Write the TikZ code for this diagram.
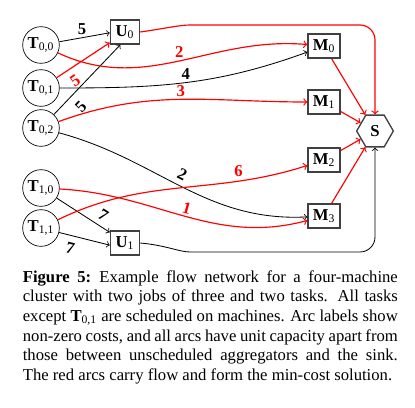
\documentclass[tikz,border=0pt]{standalone}
\usepackage{fontspec}
\setmainfont{Liberation Serif}
\usepackage{xcolor}
\definecolor{flotrouge}{RGB}{255,0,0}
\definecolor{bordgris}{RGB}{64,64,64}
\usetikzlibrary{positioning,calc,shapes.geometric}

\begin{document}
\begin{tikzpicture}[x=0.6pt,y=-0.6pt,
    tache/.style={draw, circle, minimum size=22pt, inner sep=0pt},
    agregat/.style={draw=bordgris, line width=0.8pt, rectangle,
                    minimum width=17.5pt, minimum height=14.5pt, inner sep=0pt},
    machine/.style={draw=bordgris, line width=0.8pt, rectangle,
                    minimum width=19.2pt, minimum height=14.5pt, inner sep=0pt},
    puits/.style={draw=bordgris, line width=0.8pt, regular polygon,
                  regular polygon sides=6, minimum size=22pt, inner sep=0pt},
    arc/.style={->, black, line width=0.5pt},
    flot/.style={->, flotrouge, line width=0.7pt},
    cout/.style={font=\bfseries, inner sep=1.5pt}]
  \useasboundingbox (0,0) rectangle (415,407);
  % Taches des deux jobs, a gauche
  \node[tache] (t00) at (41,45)  {\textbf{T}\textsubscript{0,0}};
  \node[tache] (t01) at (41,88)  {\textbf{T}\textsubscript{0,1}};
  \node[tache] (t02) at (41,128) {\textbf{T}\textsubscript{0,2}};
  \node[tache] (t10) at (41,188) {\textbf{T}\textsubscript{1,0}};
  \node[tache] (t11) at (41,228) {\textbf{T}\textsubscript{1,1}};
  % Agregateurs non planifies, machines et puits
  \node[agregat] (u0) at (125,32)  {\textbf{U}\textsubscript{0}};
  \node[agregat] (u1) at (125,243) {\textbf{U}\textsubscript{1}};
  \node[machine] (m0) at (324,46)  {\textbf{M}\textsubscript{0}};
  \node[machine] (m1) at (324,102) {\textbf{M}\textsubscript{1}};
  \node[machine] (m2) at (324,160) {\textbf{M}\textsubscript{2}};
  \node[machine] (m3) at (324,216) {\textbf{M}\textsubscript{3}};
  \node[puits] (s) at (375,131) {\textbf{S}};
  \coordinate (haut) at (205,25);
  \coordinate (bas) at (205,252);
  % Arcs vers les agregateurs
  \draw[arc] (t00) -- node[cout, above, pos=0.45] {5} (u0.183);
  \draw[flot] (t01) -- node[cout, below, sloped, pos=0.22, inner sep=3.8pt] {5} (u0.215);
  \draw[arc] (t02) -- node[cout, below, sloped, pos=0.25, inner sep=5pt] {5} (u0.250);
  \draw[arc] (t10) -- node[cout, above, sloped, pos=0.77, inner sep=3pt] {7} (u1.145);
  \draw[arc] (t11) -- node[cout, below, sloped, pos=0.28, inner sep=4pt] {7} (u1.188);
  % Arcs vers les machines
  \draw[flot] (t00) to[out=-25, in=175] node[cout, above, pos=0.5] {2} (m0);
  \draw[arc] (t01) to[out=0, in=200] node[cout, above, pos=0.5] {4} (m0);
  \draw[flot] (t02) to[out=20, in=180] node[cout, above, pos=0.5] {3} (m1);
  \draw[arc] (t02) to[out=-15, in=183] node[cout, above, sloped, pos=0.48, inner sep=3pt] {2} (m3);
  \draw[flot] (t10) to[out=-3, in=195] node[cout, above, sloped, pos=0.5] {1} (m3);
  \draw[flot] (t11) to[out=26, in=198] node[cout, above, pos=0.74, inner sep=2.5pt] {6} (m2);
  % Arcs vers le puits
  \foreach \m in {m0,m1,m2,m3}
    \draw[flot] (\m) -- (s);
  \draw[flot, rounded corners=9pt] (u0.east) to[out=8, in=180] (haut) -| (s.north);
  \draw[arc, rounded corners=9pt] (u1.east) to[out=-5, in=180] (bas) -| (s.south);
  % Legende
  \node[anchor=north west, text width=225pt, inner sep=0pt, align=justify,
        font=\fontsize{10}{11.8}\selectfont] (legende) at (22.5,270)
    {\textbf{Figure 5:}\enspace Example flow network for a four-machine
     cluster with two jobs of three and two tasks.  All tasks
     except \textbf{T}\textsubscript{0,1} are scheduled on machines. Arc labels show
     non-zero costs, and all arcs have unit capacity apart from
     those between unscheduled aggregators and the sink.
     The red arcs carry flow and form the min-cost solution.};
\end{tikzpicture}
\end{document}
